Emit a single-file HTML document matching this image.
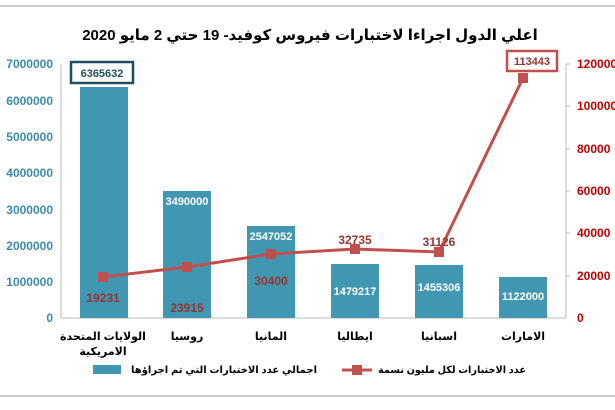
<!DOCTYPE html><html><head><meta charset="utf-8"><style>body{margin:0;background:#fff}svg{display:block}text{font-family:"Liberation Sans","DejaVu Sans",sans-serif;font-weight:bold}</style></head><body>
<svg width="615" height="410" xmlns="http://www.w3.org/2000/svg">
<line x1="0" y1="6" x2="615" y2="6" stroke="#ccc" stroke-width="2"/>
<line x1="0" y1="396" x2="615" y2="396" stroke="#ccc" stroke-width="2"/>
<text x="310" y="40" font-size="15" text-anchor="middle" fill="#000">اعلي الدول اجراءا لاختبارات فيروس كوفيد- 19 حتي 2 مايو 2020</text>
<g font-size="12" fill="#3a8ca8" text-anchor="end">
<text x="53" y="68">7000000</text><text x="53" y="105">6000000</text><text x="53" y="141">5000000</text><text x="53" y="177">4000000</text><text x="53" y="214">3000000</text><text x="53" y="250">2000000</text><text x="53" y="286">1000000</text><text x="53" y="322">0</text></g>
<g font-size="12" fill="#c00000">
<text x="577" y="68">120000</text><text x="577" y="110">100000</text><text x="577" y="153">80000</text><text x="577" y="195">60000</text><text x="577" y="237">40000</text><text x="577" y="280">20000</text><text x="577" y="322">0</text></g>
<line x1="61" y1="64" x2="61" y2="318" stroke="#bbb"/>
<line x1="61" y1="318" x2="566" y2="318" stroke="#bbb"/>
<line x1="566" y1="64" x2="566" y2="318" stroke="#bbb"/>
<g stroke="#bbb"><line x1="566" y1="64" x2="570" y2="64"/><line x1="566" y1="106" x2="570" y2="106"/><line x1="566" y1="149" x2="570" y2="149"/><line x1="566" y1="191" x2="570" y2="191"/><line x1="566" y1="233" x2="570" y2="233"/><line x1="566" y1="276" x2="570" y2="276"/></g>
<g fill="#4197b2">
<rect x="80" y="87" width="48" height="231"/><rect x="163" y="191" width="48" height="127"/><rect x="247" y="226" width="48" height="92"/><rect x="331" y="264" width="48" height="54"/><rect x="415" y="265" width="48" height="53"/><rect x="499" y="277" width="48" height="41"/></g>
<rect x="71" y="62" width="62" height="21" fill="#fff" stroke="#1f4e5f" stroke-width="2.5"/>
<text x="102" y="77" font-size="11" fill="#1f4e5f" text-anchor="middle">6365632</text>
<g font-size="11" fill="#fff" text-anchor="middle">
<text x="187" y="205">3490000</text><text x="271" y="240">2547052</text><text x="355" y="295">1479217</text><text x="439" y="291">1455306</text><text x="523" y="300">1122000</text></g>
<polyline points="103,277 187,267 271,254 355,249 439,252 523,78" fill="none" stroke="#c0504d" stroke-width="3"/>
<g fill="#c0504d"><rect x="98" y="272" width="10" height="10"/><rect x="182" y="262" width="10" height="10"/><rect x="266" y="249" width="10" height="10"/><rect x="350" y="244" width="10" height="10"/><rect x="434" y="247" width="10" height="10"/><rect x="518" y="73" width="10" height="10"/></g>
<rect x="507" y="51" width="50" height="20" fill="#fff" stroke="#c0504d" stroke-width="2.5"/>
<text x="532" y="65" font-size="11" fill="#943634" text-anchor="middle">113443</text>
<g font-size="12" fill="#943634" text-anchor="middle">
<text x="103" y="302">19231</text><text x="187" y="312">23915</text><text x="271" y="285">30400</text><text x="355" y="244">32735</text><text x="439" y="246">31126</text></g>
<g font-size="11" fill="#000" text-anchor="middle">
<text x="103" y="340">الولايات المتحدة</text><text x="103" y="355">الامريكية</text><text x="187" y="340">روسيا</text><text x="271" y="340">المانيا</text><text x="355" y="340">ايطاليا</text><text x="439" y="340">اسبانيا</text><text x="523" y="340">الامارات</text></g>
<rect x="93" y="365" width="28" height="9" fill="#4197b2"/>
<text x="224" y="373" font-size="10" fill="#000" text-anchor="middle" textLength="186" lengthAdjust="spacingAndGlyphs">اجمالي عدد الاختبارات التي تم اجراؤها</text>
<line x1="342" y1="370" x2="372" y2="370" stroke="#c0504d" stroke-width="3"/><rect x="352" y="365" width="10" height="10" fill="#c0504d"/>
<text x="452" y="373" font-size="10" fill="#000" text-anchor="middle" textLength="148" lengthAdjust="spacingAndGlyphs">عدد الاختبارات لكل مليون نسمة</text>
</svg></body></html>
